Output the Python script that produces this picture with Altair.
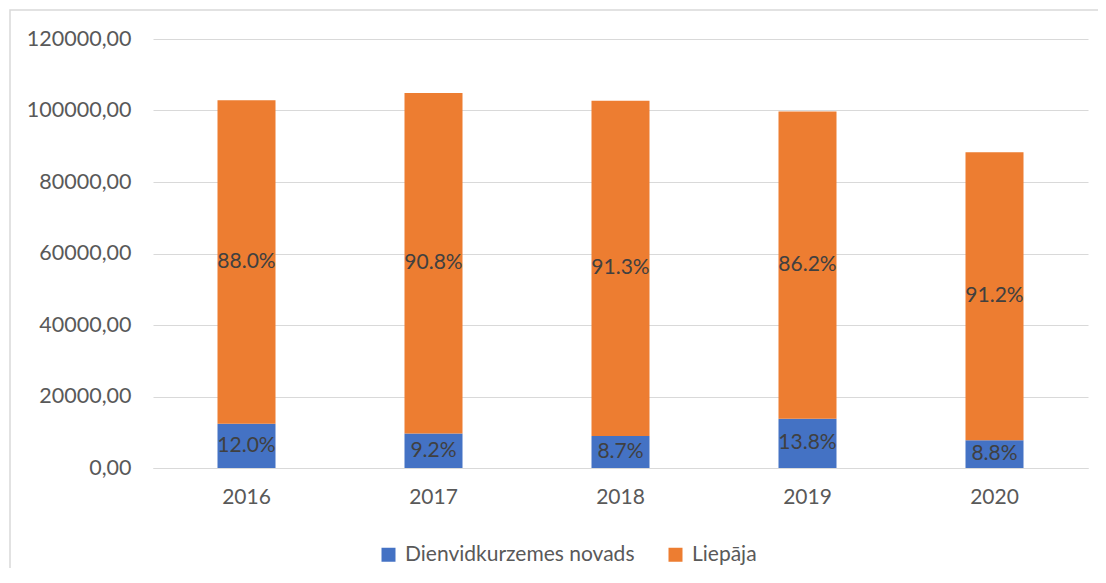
import altair as alt
import pandas as pd

years = ["2016", "2017", "2018", "2019", "2020"]
series = ["Dienvidkurzemes novads", "Liepāja"]
dienvid = [12350, 9650, 8930, 13760, 7770]
liepaja = [90550, 95250, 93770, 85940, 80530]
dienvid_pct = ["12.0%", "9.2%", "8.7%", "13.8%", "8.8%"]
liepaja_pct = ["88.0%", "90.8%", "91.3%", "86.2%", "91.2%"]
colors = ["#4472C4", "#ED7D31"]

rows = []
for i, y in enumerate(years):
    rows.append({"year": y, "series": series[0], "value": dienvid[i], "label": dienvid_pct[i], "order": 0})
    rows.append({"year": y, "series": series[1], "value": liepaja[i], "label": liepaja_pct[i], "order": 1})
df = pd.DataFrame(rows)

FONT = "Lato"
W, H = 935, 429

base = alt.Chart(df)

bars = base.mark_bar(size=58).encode(
    x=alt.X("year:N", title=None, sort=years,
            axis=alt.Axis(labelAngle=0, labelFontSize=21, labelColor="#595959", labelFont=FONT,
                          ticks=False, domain=True, domainColor="#d9d9d9", labelPadding=18,
                          grid=False)),
    y=alt.Y("value:Q", title=None, stack="zero",
            scale=alt.Scale(domain=[0, 120000], nice=False),
            axis=alt.Axis(values=[0, 20000, 40000, 60000, 80000, 100000, 120000],
                          labelExpr="replace(format(datum.value, '.2f'), '.', ',')",
                          labelFontSize=21.5, labelColor="#595959", labelFont=FONT,
                          ticks=False, domain=False, gridColor="#d9d9d9", gridWidth=1,
                          labelPadding=22)),
    color=alt.Color("series:N", sort=series,
                    scale=alt.Scale(domain=series, range=colors),
                    legend=alt.Legend(title=None, orient="none", direction="horizontal",
                                      legendX=225, legendY=505, symbolType="square",
                                      symbolSize=196, symbolStrokeWidth=0,
                                      labelFontSize=21, labelColor="#595959", labelFont=FONT,
                                      labelLimit=0, columnPadding=30, labelOffset=6)),
    order=alt.Order("order:Q"),
)

text = base.mark_text(fontSize=21, color="#404040", font=FONT).encode(
    x=alt.X("year:N", sort=years),
    y=alt.Y("value:Q", stack="zero", bandPosition=0.5),
    detail="series:N",
    text="label:N",
    order=alt.Order("order:Q"),
)

border = alt.Chart(pd.DataFrame({"a": [0]})).mark_rect(
    fill=None, stroke="#d9d9d9", strokeWidth=1.5, clip=False
).encode(
    x=alt.value(-143), x2=alt.value(W + 40),
    y=alt.value(-29), y2=alt.value(H + 150),
)

chart = alt.layer(border, bars, text).properties(
    width=W, height=H,
    autosize=alt.AutoSizeParams(type="none"),
    padding={"left": 145, "top": 31, "right": 10, "bottom": 100},
).configure(font=FONT).configure_view(stroke=None)

chart.save("out.html", embed_options={"renderer": "svg", "actions": False})
